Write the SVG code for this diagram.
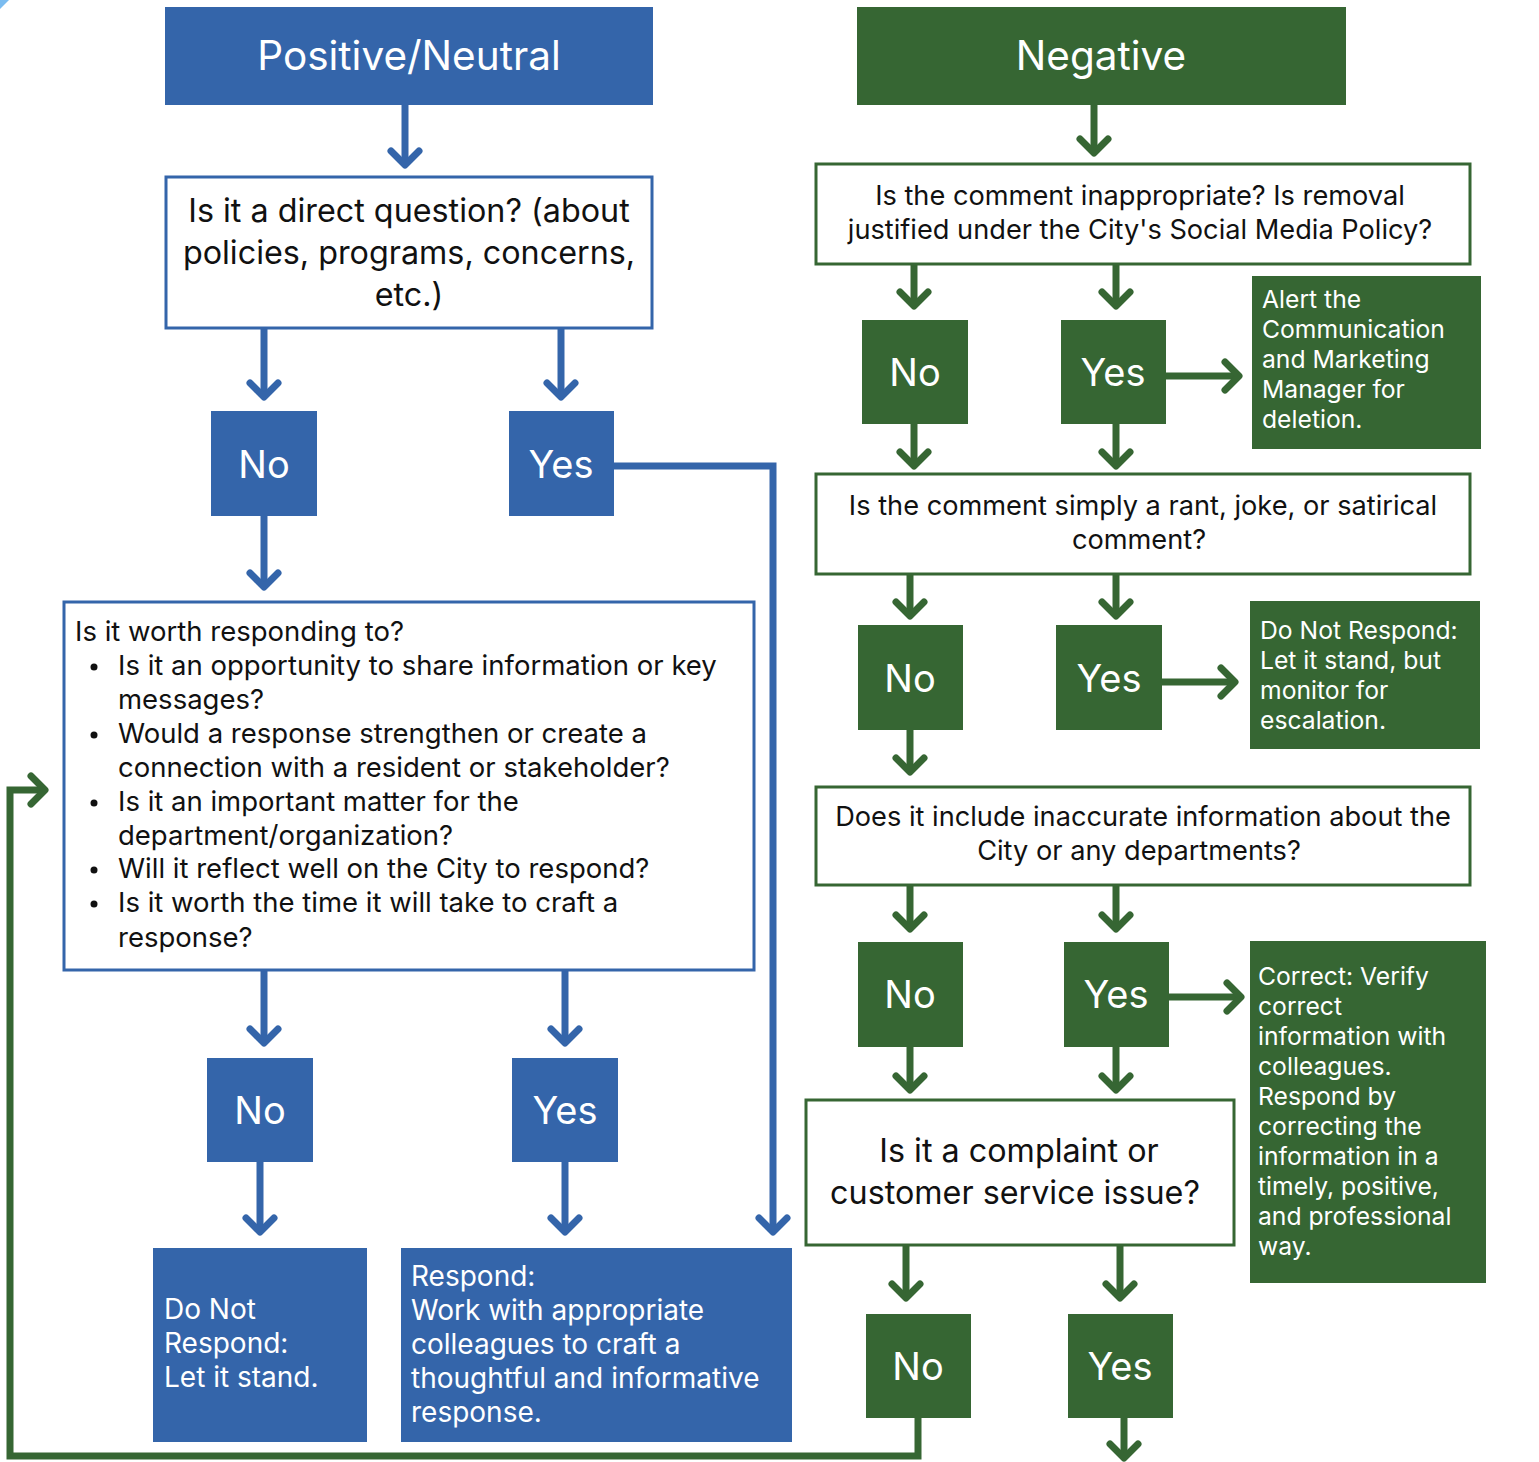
<svg xmlns="http://www.w3.org/2000/svg" width="1539" height="1462" viewBox="0 0 1539 1462">
<style>
text{font-family:Inter,"Open Sans","Liberation Sans",sans-serif;}
.bf{fill:#3465aa;}
.gf{fill:#366633;}
.bs{fill:#fff;stroke:#3465aa;stroke-width:3;}
.gs{fill:#fff;stroke:#366633;stroke-width:3;}
.wt{fill:#fff;}
.kt{fill:#111;}
.hd{font-size:40.5px;text-anchor:middle;}
.yn{font-size:38px;text-anchor:middle;}
.q1{font-size:32.3px;text-anchor:middle;}
.q2{font-size:27.2px;text-anchor:middle;}
.bl{font-size:27.5px;}
.bb{font-size:28px;}
.sd{font-size:24.7px;}
.bc{fill:none;stroke:#3465aa;stroke-width:7;}
.gc{fill:none;stroke:#366633;stroke-width:7;}
</style>
<defs>
<marker id="ab" markerUnits="userSpaceOnUse" markerWidth="40" markerHeight="40" viewBox="-20 -20 40 40" refX="-3" refY="0" orient="auto" overflow="visible">
<path d="M-14 -14 L0 0 L-14 14" fill="none" stroke="#3465aa" stroke-width="7" stroke-linecap="round" stroke-linejoin="round"/>
</marker>
<marker id="ag" markerUnits="userSpaceOnUse" markerWidth="40" markerHeight="40" viewBox="-20 -20 40 40" refX="-3" refY="0" orient="auto" overflow="visible">
<path d="M-14 -14 L0 0 L-14 14" fill="none" stroke="#366633" stroke-width="7" stroke-linecap="round" stroke-linejoin="round"/>
</marker>
</defs>
<rect width="1539" height="1462" fill="#fff"/>
<polygon points="0,0 9,0 0,9" fill="#7bbcf0"/>

<g id="connectors">
<path class="bc" marker-end="url(#ab)" d="M405 105 V162"/>
<path class="bc" marker-end="url(#ab)" d="M264 328 V394"/>
<path class="bc" marker-end="url(#ab)" d="M561 328 V394"/>
<path class="bc" marker-end="url(#ab)" d="M614 466 H773 V1229"/>
<path class="bc" marker-end="url(#ab)" d="M264 516 V584"/>
<path class="bc" marker-end="url(#ab)" d="M264 970 V1040"/>
<path class="bc" marker-end="url(#ab)" d="M565 970 V1040"/>
<path class="bc" marker-end="url(#ab)" d="M260 1162 V1229"/>
<path class="bc" marker-end="url(#ab)" d="M565 1162 V1229"/>

<path class="gc" marker-end="url(#ag)" d="M1094 105 V150"/>
<path class="gc" marker-end="url(#ag)" d="M914 264 V303"/>
<path class="gc" marker-end="url(#ag)" d="M1116 264 V303"/>
<path class="gc" marker-end="url(#ag)" d="M1166 376 H1236"/>
<path class="gc" marker-end="url(#ag)" d="M914 424 V463"/>
<path class="gc" marker-end="url(#ag)" d="M1116 424 V463"/>
<path class="gc" marker-end="url(#ag)" d="M910 574 V613"/>
<path class="gc" marker-end="url(#ag)" d="M1116 574 V613"/>
<path class="gc" marker-end="url(#ag)" d="M1162 682 H1232"/>
<path class="gc" marker-end="url(#ag)" d="M910 730 V769"/>
<path class="gc" marker-end="url(#ag)" d="M910 885 V926"/>
<path class="gc" marker-end="url(#ag)" d="M1116 885 V926"/>
<path class="gc" marker-end="url(#ag)" d="M1169 997 H1238"/>
<path class="gc" marker-end="url(#ag)" d="M910 1047 V1087"/>
<path class="gc" marker-end="url(#ag)" d="M1116 1047 V1087"/>
<path class="gc" marker-end="url(#ag)" d="M906 1245 V1295"/>
<path class="gc" marker-end="url(#ag)" d="M1120 1245 V1295"/>
<path class="gc" marker-end="url(#ag)" d="M1124 1418 V1455"/>
<path class="gc" marker-end="url(#ag)" d="M918 1418 V1456 H10 V790 H42"/>
</g>

<g id="pos-header"><rect class="bf" x="165" y="7" width="488" height="98"/><text class="wt hd" x="409" y="70">Positive/Neutral</text></g>
<g id="neg-header"><rect class="gf" x="857" y="7" width="489" height="98"/><text class="wt hd" x="1101" y="70">Negative</text></g>

<g id="q-direct"><rect class="bs" x="166" y="177" width="486" height="151"/>
<text class="kt q1" x="409" y="222">Is it a direct question? (about</text>
<text class="kt q1" x="409" y="264">policies, programs, concerns,</text>
<text class="kt q1" x="409" y="306">etc.)</text></g>

<g id="b-no1"><rect class="bf" x="211" y="411" width="106" height="105"/><text class="wt yn" x="264" y="478">No</text></g>
<g id="b-yes1"><rect class="bf" x="509" y="411" width="105" height="105"/><text class="wt yn" x="561" y="478">Yes</text></g>

<g id="q-worth"><rect class="bs" x="64" y="602" width="690" height="368"/>
<text class="kt bl" x="75" y="641">Is it worth responding to?</text>
<g class="kt">
<circle cx="94" cy="667" r="3.5"/><circle cx="94" cy="735" r="3.5"/><circle cx="94" cy="803" r="3.5"/><circle cx="94" cy="870" r="3.5"/><circle cx="94" cy="904" r="3.5"/>
</g>
<text class="kt bl" x="118" y="675">Is it an opportunity to share information or key</text>
<text class="kt bl" x="118" y="709">messages?</text>
<text class="kt bl" x="118" y="743">Would a response strengthen or create a</text>
<text class="kt bl" x="118" y="777">connection with a resident or stakeholder?</text>
<text class="kt bl" x="118" y="811">Is it an important matter for the</text>
<text class="kt bl" x="118" y="845">department/organization?</text>
<text class="kt bl" x="118" y="878">Will it reflect well on the City to respond?</text>
<text class="kt bl" x="118" y="912">Is it worth the time it will take to craft a</text>
<text class="kt bl" x="118" y="947">response?</text></g>

<g id="b-no2"><rect class="bf" x="207" y="1058" width="106" height="104"/><text class="wt yn" x="260" y="1124">No</text></g>
<g id="b-yes2"><rect class="bf" x="512" y="1058" width="106" height="104"/><text class="wt yn" x="565" y="1124">Yes</text></g>

<g id="b-donot"><rect class="bf" x="153" y="1248" width="214" height="194"/>
<text class="wt bb" x="164" y="1319">Do Not</text>
<text class="wt bb" x="164" y="1353">Respond:</text>
<text class="wt bb" x="164" y="1387">Let it stand.</text></g>

<g id="b-respond"><rect class="bf" x="401" y="1248" width="391" height="194"/>
<text class="wt bb" x="411" y="1286">Respond:</text>
<text class="wt bb" x="411" y="1320">Work with appropriate</text>
<text class="wt bb" x="411" y="1354">colleagues to craft a</text>
<text class="wt bb" x="411" y="1388">thoughtful and informative</text>
<text class="wt bb" x="411" y="1422">response.</text></g>

<g id="q-inapp"><rect class="gs" x="816" y="164" width="654" height="100"/>
<text class="kt q2" x="1140" y="205">Is the comment inappropriate? Is removal</text>
<text class="kt q2" x="1140" y="239">justified under the City's Social Media Policy?</text></g>
<g id="g-no1"><rect class="gf" x="862" y="320" width="106" height="104"/><text class="wt yn" x="915" y="386">No</text></g>
<g id="g-yes1"><rect class="gf" x="1061" y="320" width="105" height="104"/><text class="wt yn" x="1113" y="386">Yes</text></g>
<g id="g-alert"><rect class="gf" x="1252" y="276" width="229" height="173"/>
<text class="wt sd" x="1262" y="308">Alert the</text>
<text class="wt sd" x="1262" y="338">Communication</text>
<text class="wt sd" x="1262" y="368">and Marketing</text>
<text class="wt sd" x="1262" y="398">Manager for</text>
<text class="wt sd" x="1262" y="428">deletion.</text></g>

<g id="q-rant"><rect class="gs" x="816" y="474" width="654" height="100"/>
<text class="kt q2" x="1143" y="515">Is the comment simply a rant, joke, or satirical</text>
<text class="kt q2" x="1139" y="549">comment?</text></g>
<g id="g-no2"><rect class="gf" x="858" y="625" width="105" height="105"/><text class="wt yn" x="910" y="692">No</text></g>
<g id="g-yes2"><rect class="gf" x="1056" y="625" width="106" height="105"/><text class="wt yn" x="1109" y="692">Yes</text></g>
<g id="g-monitor"><rect class="gf" x="1250" y="601" width="230" height="148"/>
<text class="wt sd" x="1260" y="639">Do Not Respond:</text>
<text class="wt sd" x="1260" y="669">Let it stand, but</text>
<text class="wt sd" x="1260" y="699">monitor for</text>
<text class="wt sd" x="1260" y="729">escalation.</text></g>

<g id="q-inacc"><rect class="gs" x="816" y="787" width="654" height="98"/>
<text class="kt q2" x="1143" y="826">Does it include inaccurate information about the</text>
<text class="kt q2" x="1139" y="860">City or any departments?</text></g>
<g id="g-no3"><rect class="gf" x="858" y="942" width="105" height="105"/><text class="wt yn" x="910" y="1008">No</text></g>
<g id="g-yes3"><rect class="gf" x="1064" y="942" width="105" height="105"/><text class="wt yn" x="1116" y="1008">Yes</text></g>
<g id="g-correct"><rect class="gf" x="1250" y="941" width="236" height="342"/>
<text class="wt sd" x="1258" y="985">Correct: Verify</text>
<text class="wt sd" x="1258" y="1015">correct</text>
<text class="wt sd" x="1258" y="1045">information with</text>
<text class="wt sd" x="1258" y="1075">colleagues.</text>
<text class="wt sd" x="1258" y="1105">Respond by</text>
<text class="wt sd" x="1258" y="1135">correcting the</text>
<text class="wt sd" x="1258" y="1165">information in a</text>
<text class="wt sd" x="1258" y="1195">timely, positive,</text>
<text class="wt sd" x="1258" y="1225">and professional</text>
<text class="wt sd" x="1258" y="1255">way.</text></g>

<g id="q-complaint"><rect class="gs" x="806" y="1100" width="428" height="145"/>
<text class="kt q1" x="1019" y="1162">Is it a complaint or</text>
<text class="kt q1" x="1015" y="1204">customer service issue?</text></g>
<g id="g-no4"><rect class="gf" x="866" y="1314" width="105" height="104"/><text class="wt yn" x="918" y="1380">No</text></g>
<g id="g-yes4"><rect class="gf" x="1068" y="1314" width="105" height="104"/><text class="wt yn" x="1120" y="1380">Yes</text></g>
</svg>
